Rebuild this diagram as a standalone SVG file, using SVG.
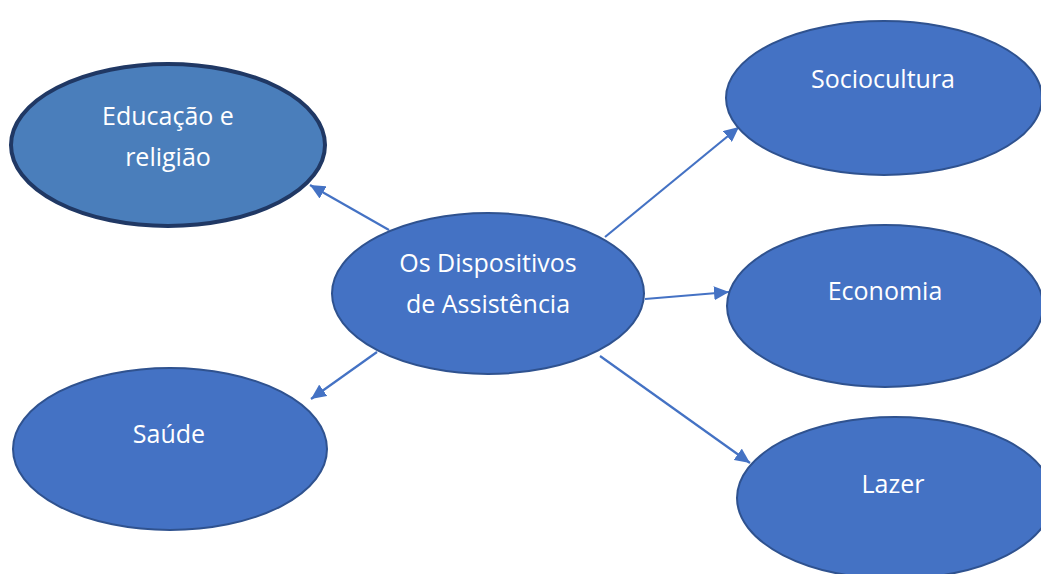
<svg xmlns="http://www.w3.org/2000/svg" width="1041" height="574" viewBox="0 0 1041 574">
<style>
.n{fill:#4472C4;stroke:#2F528F;stroke-width:2}
.t{font-family:"Open Sans","Noto Sans",sans-serif;font-size:25px;fill:#FFFFFF;text-anchor:middle}
.c{stroke:#4472C4;stroke-width:2.2;fill:none;marker-end:url(#ah)}
</style>
<defs>
<marker id="ah" markerUnits="userSpaceOnUse" markerWidth="16" markerHeight="14" refX="15" refY="7" orient="auto">
<path d="M0,0 L15,7 L0,14 Z" fill="#4472C4"/>
</marker>
</defs>
<rect width="1041" height="574" fill="#FFFFFF"/>
<g id="connectors">
<line class="c" x1="389" y1="230" x2="310" y2="185"/>
<line class="c" x1="377" y1="352" x2="311" y2="399"/>
<line class="c" x1="605" y1="237" x2="739" y2="127"/>
<line class="c" x1="645" y1="299" x2="729" y2="292"/>
<line class="c" x1="600" y1="356" x2="750" y2="463"/>
</g>
<g id="educacao">
<ellipse cx="168" cy="145" rx="157" ry="81" fill="#4A7EBB" stroke="#203864" stroke-width="4"/>
<text class="t" x="168" y="125">Educação e</text>
<text class="t" x="168" y="166">religião</text>
</g>
<g id="central">
<ellipse class="n" cx="488" cy="293.5" rx="156" ry="80.5"/>
<text class="t" x="488" y="272">Os Dispositivos</text>
<text class="t" x="488" y="313">de Assistência</text>
</g>
<g id="sociocultura">
<ellipse class="n" cx="884" cy="98" rx="158" ry="77"/>
<text class="t" x="883" y="88">Sociocultura</text>
</g>
<g id="economia">
<ellipse class="n" cx="885" cy="306" rx="158" ry="81"/>
<text class="t" x="885" y="300">Economia</text>
</g>
<g id="lazer">
<ellipse class="n" cx="895" cy="498" rx="158" ry="81"/>
<text class="t" x="893" y="493">Lazer</text>
</g>
<g id="saude">
<ellipse class="n" cx="170" cy="449" rx="157" ry="81"/>
<text class="t" x="169" y="443">Saúde</text>
</g>
</svg>
